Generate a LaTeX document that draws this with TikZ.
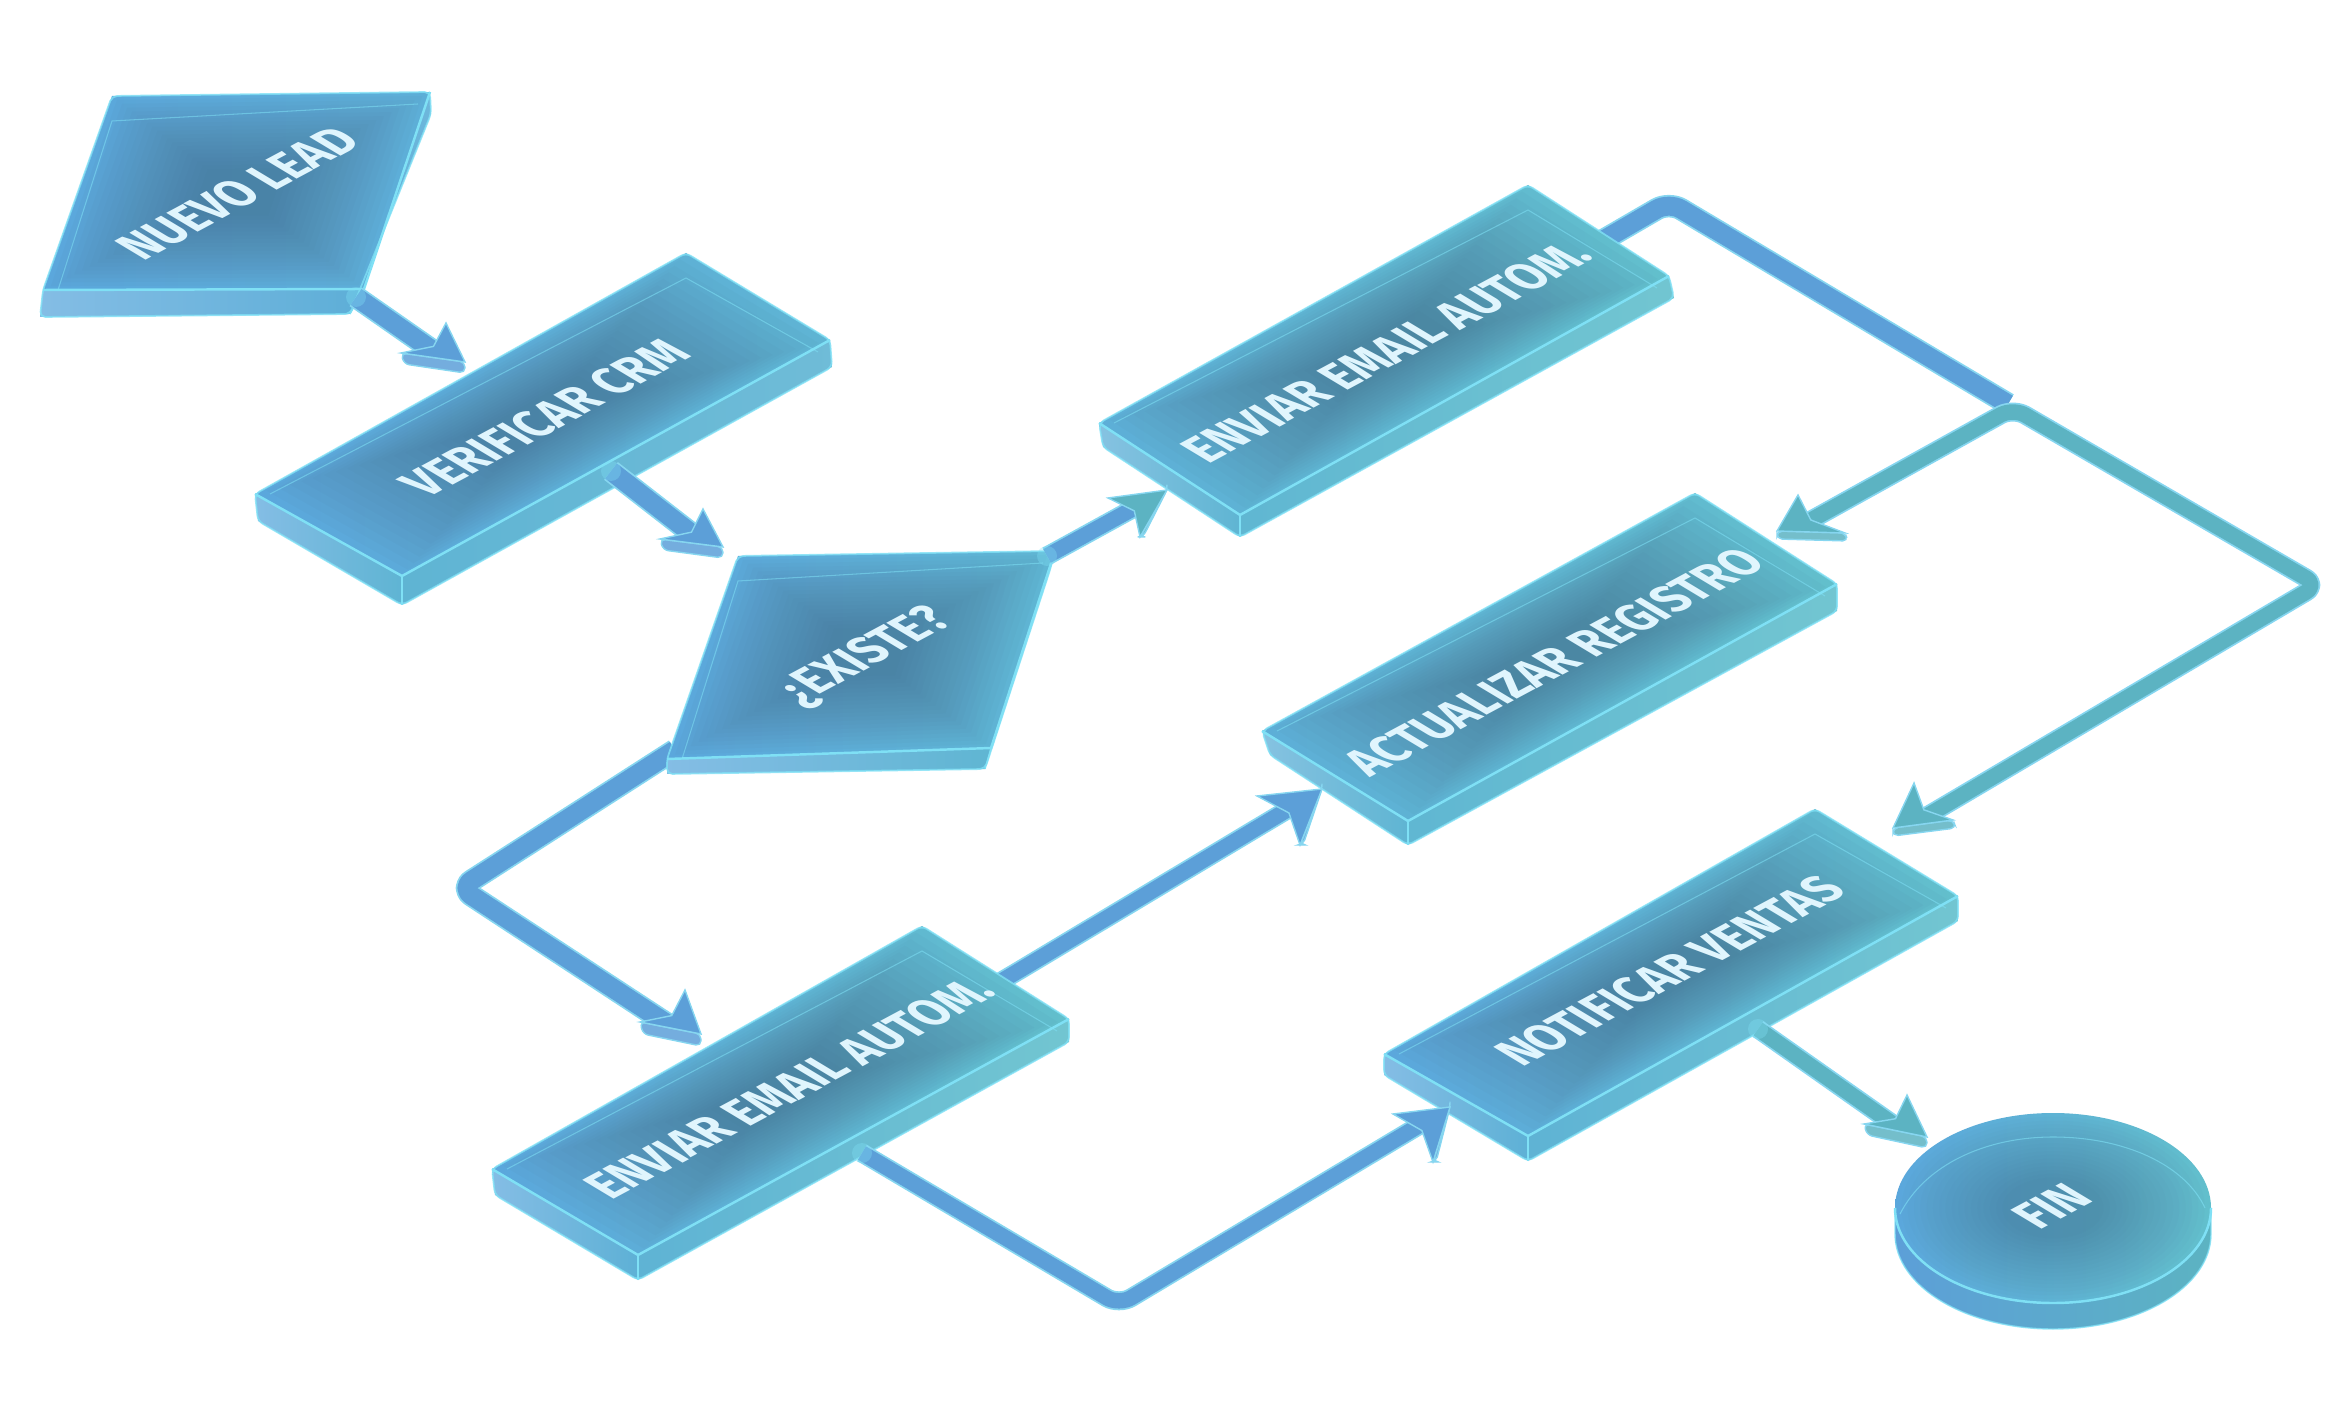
\documentclass[tikz,border=0pt]{standalone}
\usepackage{fontspec}
\setsansfont{Fira Sans}
\usetikzlibrary{calc}

\definecolor{glassblue}{HTML}{5BA7DC}
\definecolor{glassteal}{HTML}{62BFCC}
\definecolor{glasscore}{HTML}{466F8C}
\definecolor{glassrim}{HTML}{7FE0F5}
\definecolor{flowblue}{HTML}{5C9FD8}
\definecolor{flowteal}{HTML}{5CB3C2}
\definecolor{flowrim}{HTML}{86D6F0}

% left colour, right colour, then the corners of the slab:
% top, right, right low, front, front low, left, left low
\newcommand{\slab}[9]{
  \coordinate (T) at (#3);
  \coordinate (R) at (#4);
  \coordinate (B) at (#6);
  \coordinate (L) at (#8);
  \coordinate (C) at ($(T)!0.5!(B)$);
  \shade[left color=#1!75!white, right color=#1!60!#2] (L) -- (B) -- (#7) -- (#9) -- cycle;
  \shade[left color=#1!50!#2, right color=#2!90!white] (B) -- (R) -- (#5) -- (#7) -- cycle;
  \shade[left color=#1, right color=#2] (T) -- (R) -- (B) -- (L) -- cycle;
  \foreach \k in {0.96,0.92,...,0.2}
    \fill[glasscore, opacity=0.045]
      ($(C)!\k!(T)$) -- ($(C)!\k!(R)$) -- ($(C)!\k!(B)$) -- ($(C)!\k!(L)$) -- cycle;
  % Inner line and bright rims.
  \draw[glassrim, line width=0.3pt, opacity=0.55] ($(L)+(15,0)$) -- ($(T)+(0,25)$) -- ($(R)+(-12,12)$);
  \draw[glassrim, line width=0.7pt] (L) -- (B) -- (R);
  \draw[glassrim, line width=0.4pt] (B) -- (#7);
  \draw[glassrim, line width=0.5pt, opacity=0.8, rounded corners=1.5pt]
    (T) -- (R) -- (#5) -- (#7) -- (#9) -- (L) -- cycle;
}

% tip, upper barb, lower barb, colour, height of the lip
\newcommand{\flowhead}[5]{
  \filldraw[draw=flowrim, line width=0.4pt, fill=#4!85!white, rounded corners=1.5pt]
    ($(#1)+(0,-#5)$) -- (#3) -- ($(#3)+(3,#5)$) -- (#1) -- cycle;
  \filldraw[draw=flowrim, line width=0.4pt, fill=#4]
    ($(#1)+(0,-#5)$) -- (#2) -- ($(#1)!0.76!($(#2)!0.5!(#3)$)$) -- (#3) -- cycle;
}

\begin{document}
\begin{tikzpicture}[
  x=0.01cm, y=-0.01cm,
  slabtext/.style={
    font=\sffamily\bfseries\fontsize{15}{16}\selectfont,
    text=white!88!cyan,
    inner sep=0pt,
    cm={0.742,0.397,-0.857,0.515,(0,0)}
  },
  flow/.style={
    draw=flowrim,
    line width=0.5pt,
    double=#1,
    double distance=5.4pt,
    rounded corners=4pt,
    line join=round,
    shorten >=8pt
  },
  flowthin/.style={double distance=4.4pt}
]
  \useasboundingbox (0,0) rectangle (2346,1401);

  % Ports of the connectors.
  \coordinate (lead-out)   at (356,297);
  \coordinate (crm-in)     at (465,373);
  \coordinate (crm-out)    at (611,471);
  \coordinate (existe-in)  at (723,558);
  \coordinate (existe-yes) at (1047,556);
  \coordinate (existe-no)  at (675,750);
  \coordinate (mailA-in)   at (1167,490);
  \coordinate (mailA-out)  at (1595,245);
  \coordinate (mailB-in)   at (701,1046);
  \coordinate (mailB-up)   at (995,985);
  \coordinate (mailB-down) at (862,1153);
  \coordinate (reg-in)     at (1322,789);
  \coordinate (reg-top)    at (1777,539);
  \coordinate (split)      at (2013,408);
  \coordinate (notif-in)   at (1450,1107);
  \coordinate (notif-top)  at (1893,836);
  \coordinate (notif-out)  at (1758,1029);
  \coordinate (fin-in)     at (1927,1148);

  % Connectors that pass behind the slabs.
  \draw[flow=flowblue] (existe-no) -- (460,888) -- (mailB-in);
  \draw[flow=flowblue, flowthin] (mailB-up) -- (reg-in);
  \draw[flow=flowblue, shorten >=0pt] (mailA-out) -- (1669,202) -- (2008,404);
  \draw[flow=flowteal, flowthin, shorten <=8pt] (reg-top) -- (split) -- (2318,585) -- (notif-top);

  % Slabs.
  \slab{glassblue}{glassblue!70!glassteal}{112,96}{430,92}{431,114}{364,289}{350,314}{43,290}{40,317}
  \slab{glassblue}{glassblue!45!glassteal}{686,253}{830,340}{832,367}{402,576}{402,605}{255,494}{258,521}
  \slab{glassblue}{glassblue!40!glassteal}{738,556}{1055,551}{1050,570}{991,748}{985,769}{667,759}{667,774}
  \slab{glassblue!70!glassteal}{glassteal}{1528,185}{1669,276}{1674,298}{1240,515}{1240,537}{1099,423}{1103,447}
  \slab{glassblue!70!glassteal}{glassteal}{1695,493}{1837,584}{1837,611}{1408,821}{1408,845}{1262,731}{1270,755}
  \slab{glassblue}{glassteal}{922,926}{1069,1019}{1069,1042}{638,1255}{638,1280}{492,1169}{495,1195}
  \slab{glassblue}{glassteal}{1815,809}{1958,896}{1958,921}{1528,1136}{1528,1161}{1384,1054}{1384,1075}

  % Connectors that start on a slab.
  \draw[flow=flowblue] (lead-out) -- (crm-in);
  \draw[flow=flowblue] (crm-out) -- (existe-in);
  \draw[flow=flowblue, flowthin] (existe-yes) -- (mailA-in);
  \draw[flow=flowblue, flowthin] (mailB-down) -- (1119,1305) -- (notif-in);
  \draw[flow=flowteal, flowthin] (notif-out) -- (fin-in);
  \foreach \p in {lead-out,crm-out,existe-yes,mailB-down,notif-out}
    \fill[glassrim, opacity=0.35] (\p) circle (10);

  \flowhead{crm-in}{446,323}{401,353}{flowblue}{11}
  \flowhead{existe-in}{703,509}{660,539}{flowblue}{11}
  \flowhead{mailA-in}{1108,498}{1140,537}{flowteal}{0}
  \flowhead{mailB-in}{685,990}{640,1022}{flowblue}{12}
  \flowhead{reg-in}{1257,796}{1300,845}{flowblue}{0}
  \flowhead{reg-top}{1798,495}{1845,533}{flowteal}{8}
  \flowhead{notif-in}{1393,1114}{1433,1162}{flowblue}{0}
  \flowhead{notif-top}{1914,783}{1953,820}{flowteal}{8}
  \flowhead{fin-in}{1907,1095}{1864,1124}{flowteal}{11}

  % The end disc.
  \shade[left color=flowblue, right color=flowteal] (1895,1208) -- (1895,1234) arc (180:0:158 and 95) -- (2211,1208) -- cycle;
  \shade[left color=glassblue, right color=glassteal] (2053,1208) ellipse [x radius=158, y radius=95];
  \foreach \k in {0.96,0.92,...,0.3}
    \fill[glasscore, opacity=0.03] (2053,1208) ellipse [x radius=158*\k, y radius=95*\k];
  \draw[glassrim, line width=0.3pt, opacity=0.6] (1900,1214) .. controls (1925,1165) and (1985,1137) .. (2053,1137) .. controls (2125,1137) and (2185,1165) .. (2205,1208);
  \draw[glassrim, line width=0.7pt] (1895,1208) arc (180:0:158 and 95);
  \draw[glassrim, line width=0.4pt, opacity=0.8] (1895,1208) -- (1895,1234) arc (180:0:158 and 95) -- (2211,1208) arc (0:180:158 and 95);

  % Labels.
  \node[slabtext] (lead)   at (238,193)  {NUEVO LEAD};
  \node[slabtext] (crm)    at (545,418)  {VERIFICAR CRM};
  \node[slabtext] (existe) at (866,657)  {¿EXISTE?};
  \node[slabtext] (mailA)  at (1386,352) {ENVIAR EMAIL AUTOM.};
  \node[slabtext] (reg)    at (1554,662) {ACTUALIZAR REGISTRO};
  \node[slabtext] (mailB)  at (789,1088) {ENVIAR EMAIL AUTOM.};
  \node[slabtext] (notif)  at (1670,971) {NOTIFICAR VENTAS};
  \node[slabtext] (fin)    at (2052,1206) {FIN};
\end{tikzpicture}
\end{document}
